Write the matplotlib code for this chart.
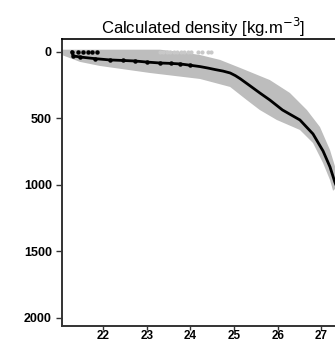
import matplotlib
matplotlib.use("Agg")
import matplotlib.pyplot as plt

plt.rcParams['font.family'] = ['Liberation Sans', 'DejaVu Sans']

# Mean density profile (black)
mean_density = [21.28, 21.31, 21.47, 21.80, 22.15, 22.45, 22.73, 23.00, 23.30, 23.55,
                23.76, 24.00, 24.22, 24.40, 24.56, 24.75, 24.91, 25.03, 25.14, 25.36,
                25.59, 25.82, 26.11, 26.51, 26.81, 27.04, 27.20, 27.31, 27.37]
mean_depth = [0, 32, 40, 52, 62, 66, 70, 78, 85, 88,
              92, 102, 112, 123, 134, 146, 160, 180, 203, 255,
              310, 363, 438, 513, 618, 746, 866, 979, 1030]

# Surface points of the mean profile
surf_density = [21.42, 21.53, 21.65, 21.74, 21.86]
surf_depth = [0, 0, 0, 0, 0]

# Envelope of individual profiles (grey): right edge and left edge
env_right_density = [21.05, 23.30, 23.76, 24.22, 24.68, 25.14, 25.82, 26.28, 26.67,
                     26.97, 27.20, 27.34, 27.42]
env_right_depth = [-15, -15, 2, 25, 62, 122, 213, 310, 438, 566, 739, 889, 1000]
env_left_density = [27.27, 27.20, 27.04, 26.81, 26.51, 25.98, 25.59, 25.29, 24.91,
                    24.22, 23.07, 21.92, 21.47, 21.05]
env_left_depth = [1045, 964, 836, 686, 588, 513, 438, 363, 265, 205, 160, 107, 77, 25]

# Light grey scattered surface points
grey_surf_density = [23.30, 23.38, 23.46, 23.54, 23.62, 23.70, 23.78, 23.86, 23.94,
                     24.02, 24.18, 24.26, 24.40, 24.48]
grey_surf_depth = [2] * len(grey_surf_density)

W, H = 335, 342
fig = plt.figure(figsize=(W / 100, H / 100), dpi=100)
left_px, right_px, top_px, bottom_px = 61.7, 345, 39.3, 325.5
ax = fig.add_axes([left_px / W, 1 - bottom_px / H,
                   (right_px - left_px) / W, (bottom_px - top_px) / H])

ax.fill(env_right_density + env_left_density, env_right_depth + env_left_depth,
        color='#bdbdbd', lw=0, zorder=1)
ax.plot(grey_surf_density, grey_surf_depth, 'o', color='#c9c9c9', ms=2, zorder=1)
ax.plot(mean_density, mean_depth, '-', color='black', lw=2.0, zorder=3,
        solid_capstyle='round', solid_joinstyle='round')
ax.plot(mean_density[:12], mean_depth[:12], 'o', color='black', ms=2.2, zorder=3)
ax.plot(surf_density, surf_depth, 'o', color='black', ms=2.2, zorder=3)

ax.set_xlim(21.047, 22 + (right_px - 103.3) / 43.6)
ax.set_ylim(2057, -93)
ax.set_xticks([22, 23, 24, 25, 26, 27])
ax.set_yticks([0, 500, 1000, 1500, 2000])
ax.tick_params(direction='out', length=4, width=1, color='#333333', pad=3,
               labelsize=9)
ax.tick_params(axis='x', length=3, pad=0, labelsize=8.5)
for lab in ax.get_xticklabels() + ax.get_yticklabels():
    lab.set_fontweight('bold')

for s in ['left', 'bottom']:
    ax.spines[s].set_linewidth(1.4)
    ax.spines[s].set_color('#333333')
ax.spines['top'].set_linewidth(1.2)
ax.spines['top'].set_color('black')
ax.spines['right'].set_visible(False)

ax.set_title('Calculated density [kg.m$^{-3}$]', fontsize=12, pad=4)

fig.savefig('out.png', dpi=100)
